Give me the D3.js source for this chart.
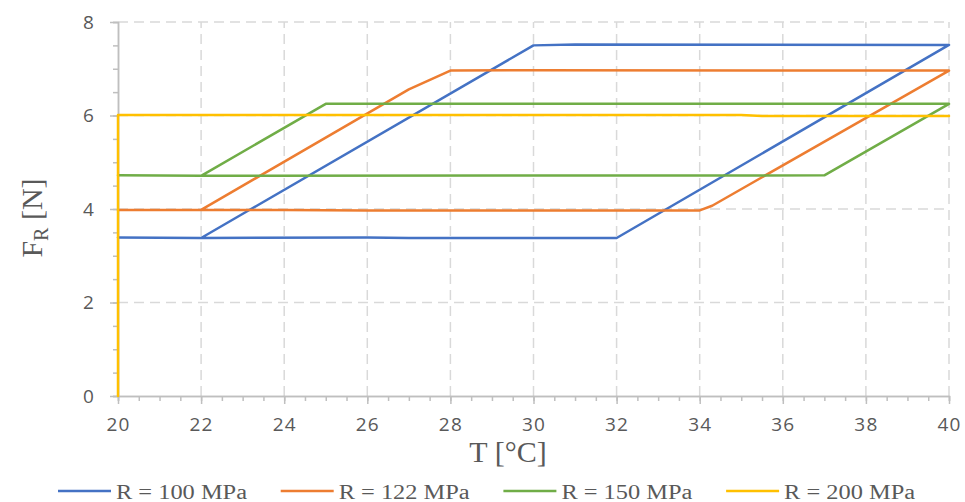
<!DOCTYPE html>
<html>
<head>
<meta charset="utf-8">
<script src="https://cdn.jsdelivr.net/npm/d3@7"></script>
<style>
  html, body { margin: 0; padding: 0; background: #fff; }
  svg { display: block; }
</style>
</head>
<body>
<script>
// ---- Data ----
const seriesNames = ["R = 100 MPa", "R = 122 MPa", "R = 150 MPa", "R = 200 MPa"];
const seriesColors = ["#4472C4", "#ED7D31", "#70AD47", "#FFC000"];

const T_100 = [20, 22, 26, 27, 32, 40, 31, 30, 22];
const F_100 = [3.39, 3.38, 3.39, 3.38, 3.38, 7.51, 7.52, 7.50, 3.38];

const T_122 = [20, 22, 24, 26, 34, 34.3, 40, 30, 28, 27, 22];
const F_122 = [3.98, 3.98, 3.98, 3.97, 3.97, 4.07, 6.96, 6.97, 6.96, 6.56, 3.98];

const T_150 = [20, 22, 37, 40, 25, 22];
const F_150 = [4.72, 4.71, 4.72, 6.25, 6.25, 4.71];

const T_200 = [20, 20, 35, 35.5, 40];
const F_200 = [0, 6.01, 6.01, 5.99, 5.99];

const xMajorTicks = [20, 22, 24, 26, 28, 30, 32, 34, 36, 38, 40];
const yMajorTicks = [0, 2, 4, 6, 8];

// ---- Layout ----
const W = 965, H = 502;
const x = d3.scaleLinear().domain([20, 40]).range([118, 949]);
const y = d3.scaleLinear().domain([0, 8]).range([396, 22]);

const svg = d3.select("body").append("svg")
  .attr("width", W).attr("height", H);

const gridColor = "#d9d9d9";
const axisColor = "#bfbfbf";
const textColor = "#595959";

// gridlines
svg.append("g").selectAll("line")
  .data(yMajorTicks.filter(d => d > 0))
  .join("line")
  .attr("x1", x(20)).attr("x2", x(40))
  .attr("y1", d => y(d)).attr("y2", d => y(d))
  .attr("stroke", gridColor).attr("stroke-width", 1.5)
  .attr("stroke-dasharray", "10,6");

svg.append("g").selectAll("line")
  .data(xMajorTicks.filter(d => d > 20))
  .join("line")
  .attr("x1", d => x(d)).attr("x2", d => x(d))
  .attr("y1", y(0)).attr("y2", y(8))
  .attr("stroke", gridColor).attr("stroke-width", 1.5)
  .attr("stroke-dasharray", "10,6");

// minor ticks
const xMinor = d3.range(20, 40.01, 0.5);
const yMinor = d3.range(0, 8.01, 0.5);

const gxMinor = svg.append("g").attr("transform", `translate(0,${y(0)})`)
  .call(d3.axisBottom(x).tickValues(xMinor).tickSize(5).tickFormat(""));
const gyMinor = svg.append("g").attr("transform", `translate(${x(20)},0)`)
  .call(d3.axisLeft(y).tickValues(yMinor).tickSize(5).tickFormat(""));

// major axes
const gx = svg.append("g").attr("transform", `translate(0,${y(0)})`)
  .call(d3.axisBottom(x).tickValues(xMajorTicks).tickSize(8).tickPadding(14).tickSizeOuter(0));
const gy = svg.append("g").attr("transform", `translate(${x(20)},0)`)
  .call(d3.axisLeft(y).tickValues(yMajorTicks).tickSize(8).tickPadding(15).tickSizeOuter(0));

[gx, gy, gxMinor, gyMinor].forEach(g => {
  g.selectAll(".domain").attr("stroke", axisColor).attr("stroke-width", 1.5);
  g.selectAll(".tick line").attr("stroke", axisColor).attr("stroke-width", 1.5);
  g.selectAll("text")
    .attr("fill", textColor)
    .style("font-family", "'Open Sans', sans-serif")
    .style("font-size", "19px")
    .style("letter-spacing", "1.2px");
});

// ---- Series ----
const seriesData = [
  d3.zip(T_100, F_100),
  d3.zip(T_122, F_122),
  d3.zip(T_150, F_150),
  d3.zip(T_200, F_200)
];

const line = d3.line().x(d => x(d[0])).y(d => y(d[1]));

svg.append("g").selectAll("path")
  .data(seriesData)
  .join("path")
  .attr("d", d => line(d))
  .attr("fill", "none")
  .attr("stroke", (d, i) => seriesColors[i])
  .attr("stroke-width", 2.5)
  .attr("stroke-linejoin", "round")
  .attr("stroke-linecap", "round");

// ---- Axis titles ----
svg.append("text")
  .attr("x", 508).attr("y", 462)
  .attr("text-anchor", "middle")
  .attr("fill", textColor)
  .style("font-family", "'Liberation Serif', serif")
  .style("font-size", "30px")
  .text("T [°C]");

const yt = svg.append("text")
  .attr("transform", "translate(42,218) rotate(-90)")
  .attr("text-anchor", "middle")
  .attr("fill", textColor)
  .style("font-family", "'Liberation Serif', serif")
  .style("font-size", "30px");
yt.append("tspan").text("F");
yt.append("tspan").attr("dy", 6).style("font-size", "20px").text("R");
yt.append("tspan").attr("dy", -6).text(" [N]");

// ---- Legend ----
const leg = svg.append("g").selectAll("g")
  .data(seriesNames)
  .join("g")
  .attr("transform", (d, i) => `translate(${58 + i * 222.7},0)`);

leg.append("line")
  .attr("x1", 0).attr("x2", 53)
  .attr("y1", 491).attr("y2", 491)
  .attr("stroke", (d, i) => seriesColors[i])
  .attr("stroke-width", 2.5);

leg.append("text")
  .attr("x", 58).attr("y", 499)
  .attr("fill", textColor)
  .attr("textLength", 131)
  .attr("lengthAdjust", "spacingAndGlyphs")
  .style("font-family", "'Liberation Serif', serif")
  .style("font-size", "20px")
  .text(d => d);
</script>
</body>
</html>
